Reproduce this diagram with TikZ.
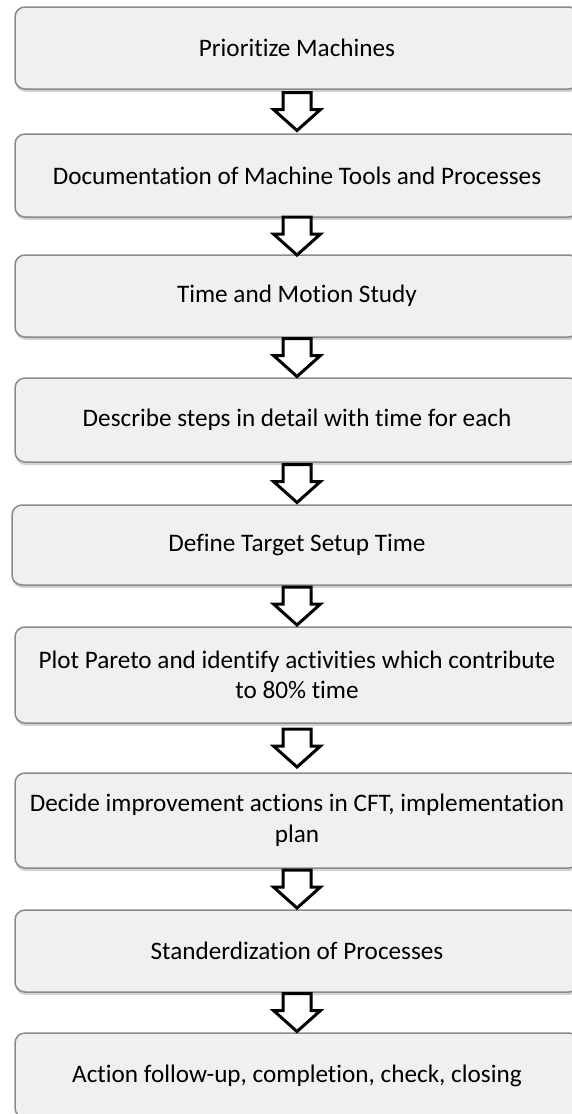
\documentclass[tikz,border=0pt]{standalone}
\usepackage{fontspec}
\setmainfont{Carlito}[Ligatures={NoCommon}]
\usetikzlibrary{shadows,calc}
\definecolor{boxfill}{HTML}{F0F0F0}
\definecolor{boxline}{HTML}{8A8A8A}
\begin{document}
\begin{tikzpicture}[x=1pt,y=-1pt,
  stepbox/.style={draw=boxline, line width=1.5pt, fill=boxfill, rounded corners=10pt,
    minimum width=564pt, inner sep=0pt, align=center,
    font=\fontsize{25.2}{30.5}\selectfont,
    drop shadow={shadow xshift=0.5pt, shadow yshift=-3pt, opacity=0.35}},
  blockarrow/.style={draw=black, line width=3pt, fill=white, miter limit=10},
  downarrow/.pic={\draw[blockarrow] (-14,-19) -- (14,-19) -- (14,-2) -- (23.5,-2) -- (0,19) -- (-23.5,-2) -- (-14,-2) -- cycle;}]
\useasboundingbox (0,0) rectangle (572,1114);
\clip (0,0) rectangle (572,1114);
\node[stepbox, minimum height=82pt] (b1) at (297,48) {Prioritize Machines};
\node[stepbox, minimum height=83pt] (b2) at (297,175.5) {Documentation of Machine Tools and Processes};
\node[stepbox, minimum height=82pt] (b3) at (297,296) {Time and Motion Study};
\node[stepbox, minimum height=84pt] (b4) at (297,420) {Describe steps in detail with time for each};
\node[stepbox, minimum height=80pt, minimum width=570pt] (b5) at (297,545) {Define Target Setup Time};
\node[stepbox, minimum height=96pt] (b6) at (297,675) {Plot Pareto and identify activities which contribute\\to 80\% time};
\node[stepbox, minimum height=95pt] (b7) at (297,820.5) {Decide improvement actions in CFT, implementation\\plan};
\node[stepbox, minimum height=82pt] (b8) at (297,951) {Standerdization of Processes};
\node[stepbox, minimum height=85pt] (b9) at (297,1075.5) {Action follow-up, completion, check, closing};
\path ($(b1.south)!0.5!(b2.north)$) pic {downarrow};
\path ($(b2.south)!0.5!(b3.north)$) pic {downarrow};
\path ($(b3.south)!0.5!(b4.north)$) pic {downarrow};
\path ($(b4.south)!0.5!(b5.north)$) pic {downarrow};
\path ($(b5.south)!0.5!(b6.north)$) pic {downarrow};
\path ($(b6.south)!0.5!(b7.north)$) pic {downarrow};
\path ($(b7.south)!0.5!(b8.north)$) pic {downarrow};
\path ($(b8.south)!0.5!(b9.north)$) pic {downarrow};
\end{tikzpicture}
\end{document}
